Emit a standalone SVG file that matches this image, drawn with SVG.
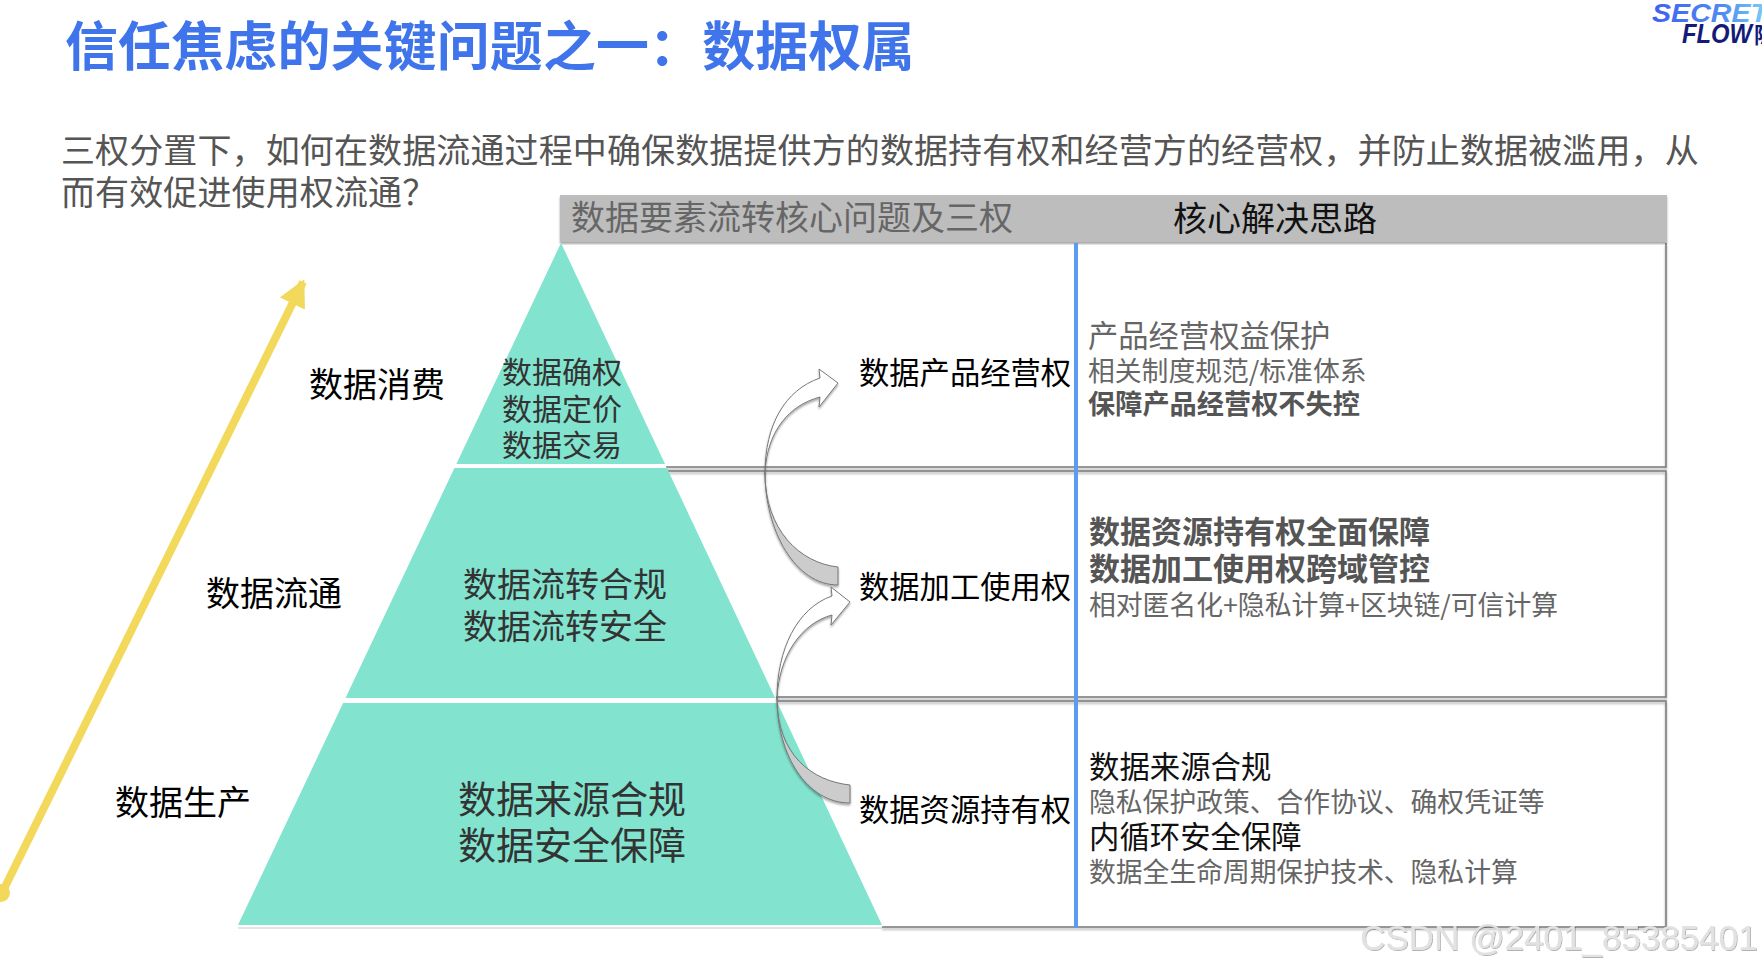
<svg xmlns="http://www.w3.org/2000/svg" width="1762" height="967" viewBox="0 0 1762 967">
<style>
text{font-family:"Noto Sans CJK SC","Liberation Sans",sans-serif}
.l{fill:#000;font-size:34px}
.g27{fill:#666;font-size:26.800px}
.g30{fill:#666;font-size:30.300px}
.b{font-weight:700;fill:#555;font-size:27.200px}
.b30{font-weight:700;fill:#555;font-size:31px}
.k30{fill:#111;font-size:30.400px}
.row{fill:none;stroke:#777;stroke-width:1.5;filter:url(#sh)}
.up{fill:#fff;stroke:#777;stroke-width:1;filter:url(#sh)}
.dn{fill:#ccc;stroke:#777;stroke-width:1;filter:url(#sh)}
.c{text-anchor:middle}
</style>
<defs>
<filter id="sh" x="-5%" y="-5%" width="110%" height="110%"><feDropShadow dx="0" dy="2" stdDeviation="1" flood-color="#000" flood-opacity=".35"/></filter>
<filter id="wm" x="-5%" y="-20%" width="110%" height="140%"><feDropShadow dx="1" dy="1" stdDeviation=".6" flood-color="#000" flood-opacity=".3"/></filter>
<linearGradient id="lg" x1="0" x2="1" y1="0" y2="0"><stop offset="0" stop-color="#3f5ff0"/><stop offset=".6" stop-color="#4f8df0"/><stop offset="1" stop-color="#7fd4f5"/></linearGradient>
<marker id="ah" markerUnits="userSpaceOnUse" markerWidth="30" markerHeight="30" refX="24" refY="14" orient="auto"><path d="M0 0L27 14L0 28Z" fill="#f2d95c"/></marker>
</defs>
<rect width="1762" height="967" fill="#fff"/>
<g id="title"><text x="65" y="66" font-weight="700" fill="#3f74ea" style="font-size:53px;letter-spacing:.1px">信任焦虑的关键问题之一：数据权属</text></g>
<g id="logo">
<text x="1652" y="22" textLength="116" lengthAdjust="spacingAndGlyphs" font-style="italic" font-weight="700" fill="url(#lg)" style="font-family:'Liberation Sans',sans-serif;font-size:26px">SECRET</text>
<text x="1682" y="43" textLength="70" lengthAdjust="spacingAndGlyphs" font-style="italic" font-weight="700" fill="#141a78" style="font-family:'Liberation Sans',sans-serif;font-size:28px">FLOW</text>
<text x="1754" y="43" font-weight="700" fill="#141a78" style="font-size:22px">隐</text>
</g>
<g id="intro" style="font-size:34px;letter-spacing:.12px" fill="#555">
<text x="61" y="163">三权分置下，如何在数据流通过程中确保数据提供方的数据持有权和经营方的经营权，并防止数据被滥用，从</text>
<text x="61" y="205">而有效促进使用权流通？</text>
</g>
<g id="table">
<path d="M238 928H882" stroke="#e4e4e4" stroke-width="2" fill="none"/>
<path class="row" d="M665 467H1666V243"/>
<path class="row" d="M667 471H1666V697H776"/>
<path class="row" d="M778 701H1666V927H882"/>
<rect x="560" y="195" width="1107" height="47" fill="#bdbdbd" filter="url(#sh)"/>
<text x="571" y="230" fill="#666" style="font-size:34px">数据要素流转核心问题及三权</text>
<text x="1173" y="231" fill="#111" style="font-size:34px">核心解决思路</text>
<rect x="1074" y="243" width="4" height="685" fill="#5b9bf2"/>
</g>
<g id="pyramid">
<polygon fill="#82e3cf" points="561,243 882,925 238,925"/>
<rect x="450" y="464" width="216" height="4" fill="#fff"/>
<rect x="340" y="698" width="437" height="5" fill="#fff"/>
<text x="562" y="383" class="c" fill="#333" style="font-size:30px">数据确权</text>
<text x="562" y="420" class="c" fill="#333" style="font-size:30px">数据定价</text>
<text x="562" y="456" class="c" fill="#333" style="font-size:30px">数据交易</text>
<text x="565" y="597" class="c" fill="#333" style="font-size:34px">数据流转合规</text>
<text x="565" y="639" class="c" fill="#333" style="font-size:34px">数据流转安全</text>
<text x="572" y="813" class="c" fill="#333" style="font-size:38px">数据来源合规</text>
<text x="572" y="859" class="c" fill="#333" style="font-size:38px">数据安全保障</text>
</g>
<g id="stage-labels">
<text x="309" y="397" class="l">数据消费</text>
<text x="206" y="606" class="l">数据流通</text>
<text x="115" y="815" class="l">数据生产</text>
</g>
<g id="right-labels">
<text x="859" y="384" style="font-size:30.300px" fill="#000">数据产品经营权</text>
<text x="859" y="598" style="font-size:30.300px" fill="#000">数据加工使用权</text>
<text x="859" y="821" style="font-size:30.300px" fill="#000">数据资源持有权</text>
</g>
<g id="solutions">
<text x="1088" y="347" class="g30">产品经营权益保护</text>
<text x="1088" y="381" class="g27">相关制度规范/标准体系</text>
<text x="1088" y="414" class="b">保障产品经营权不失控</text>
<text x="1089" y="543" class="b30">数据资源持有权全面保障</text>
<text x="1089" y="580" class="b30">数据加工使用权跨域管控</text>
<text x="1089" y="615" class="g27">相对匿名化+隐私计算+区块链/可信计算</text>
<text x="1089" y="778" class="k30">数据来源合规</text>
<text x="1089" y="812" class="g27">隐私保护政策、合作协议、确权凭证等</text>
<text x="1089" y="848" class="k30">内循环安全保障</text>
<text x="1089" y="882" class="g27">数据全生命周期保护技术、隐私计算</text>
</g>
<g id="connectors">
<line x1="2" y1="893" x2="303" y2="282" stroke="#f2d95c" stroke-width="8" marker-end="url(#ah)"/>
<circle cx="1" cy="893" r="9" fill="#f2d95c"/>
<path class="dn" d="M765 473C765 530 800 563 838 567L838 585C795 585 765 530 765 473Z"/>
<path class="up" d="M838 383L819 369L820 378C785 390 765 425 765 473C767 430 790 405 820 397L819 407Z"/>
<path class="dn" d="M777 698C777 755 812 781 850 785L850 803C807 803 777 755 777 698Z"/>
<path class="up" d="M850 602L831 587L832 596C797 608 777 650 777 698C779 655 802 623 832 615L831 625Z"/>
</g>
<g id="watermark"><text x="1360" y="950" fill="#e2e2e2" filter="url(#wm)" style="font-family:'Liberation Sans',sans-serif;font-size:35px">CSDN @2401_85385401</text></g>
</svg>
